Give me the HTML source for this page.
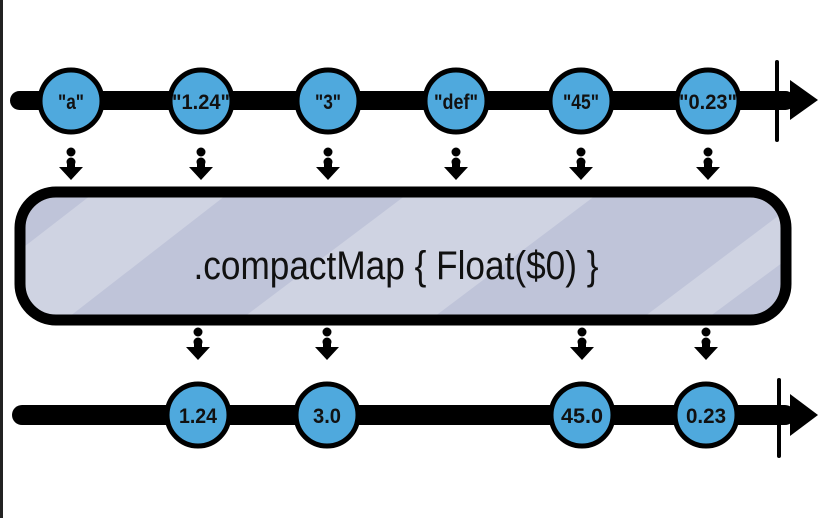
<!DOCTYPE html>
<html><head><meta charset="utf-8"><style>
html,body{margin:0;padding:0;background:#fff;width:818px;height:518px;overflow:hidden}
</style></head><body>
<svg width="818" height="518" viewBox="0 0 818 518" xmlns="http://www.w3.org/2000/svg">
<defs>
<clipPath id="bc"><rect x="20" y="192" width="766" height="128" rx="36"/></clipPath>
<g id="dn"><circle cx="0" cy="0" r="4.5" fill="#000"/><circle cx="0" cy="10" r="4.5" fill="#000"/><path d="M-12 15 L12 15 L0 28 Z" fill="#000"/><rect x="-4" y="10" width="8" height="8" fill="#000"/></g>
</defs>
<rect x="0" y="0" width="3" height="518" fill="#222"/>
<rect x="10" y="91" width="785" height="19" rx="9.5" fill="#000"/>
<path d="M790 80 L818 100 L790 120 Z" fill="#000"/>
<rect x="775" y="60" width="4" height="82" rx="2" fill="#000"/>
<rect x="12" y="405" width="783" height="20" rx="10" fill="#000"/>
<path d="M790 394 L818 415 L790 436 Z" fill="#000"/>
<rect x="777" y="378" width="4" height="80" rx="2" fill="#000"/>
<g font-family="Liberation Sans, sans-serif" font-size="21" font-weight="bold" text-anchor="middle" fill="#111" lengthAdjust="spacingAndGlyphs">
<g stroke="#000" stroke-width="5" fill="#4fa9dd">
<circle cx="71" cy="101" r="31"/><circle cx="201" cy="101" r="31"/><circle cx="328" cy="101" r="31"/>
<circle cx="456" cy="101" r="31"/><circle cx="581" cy="101" r="31"/><circle cx="708" cy="101" r="31"/>
<circle cx="198" cy="415" r="31"/><circle cx="327" cy="415" r="31"/><circle cx="582" cy="415" r="31"/><circle cx="706" cy="415" r="31"/>
</g>
<text x="71" y="109" textLength="26" lengthAdjust="spacingAndGlyphs">"a"</text>
<text x="201" y="109" textLength="58" lengthAdjust="spacingAndGlyphs">"1.24"</text>
<text x="328" y="109" textLength="26" lengthAdjust="spacingAndGlyphs">"3"</text>
<text x="456" y="109" textLength="44" lengthAdjust="spacingAndGlyphs">"def"</text>
<text x="581" y="109" textLength="36" lengthAdjust="spacingAndGlyphs">"45"</text>
<text x="708" y="109" textLength="58" lengthAdjust="spacingAndGlyphs">"0.23"</text>
<text x="198" y="423" textLength="38" lengthAdjust="spacingAndGlyphs">1.24</text>
<text x="327" y="423" textLength="28" lengthAdjust="spacingAndGlyphs">3.0</text>
<text x="582" y="423" textLength="42" lengthAdjust="spacingAndGlyphs">45.0</text>
<text x="706" y="423" textLength="40" lengthAdjust="spacingAndGlyphs">0.23</text>
</g>
<use href="#dn" x="71" y="152"/><use href="#dn" x="201" y="152"/><use href="#dn" x="328" y="152"/>
<use href="#dn" x="456" y="152"/><use href="#dn" x="581" y="152"/><use href="#dn" x="708" y="152"/>
<use href="#dn" x="198" y="332"/><use href="#dn" x="327" y="332"/><use href="#dn" x="582" y="332"/><use href="#dn" x="706" y="332"/>
<rect x="20" y="192" width="766" height="128" rx="36" fill="#bfc4d9"/>
<g clip-path="url(#bc)" fill="#cfd3e2">
<path d="M20 250 L95 192 L230 192 L20 355 Z"/>
<path d="M240 320 L410 192 L600 192 L430 320 Z"/>
<path d="M640 320 L786 210 L786 260 L705 320 Z"/>
</g>
<rect x="20" y="192" width="766" height="128" rx="36" fill="none" stroke="#000" stroke-width="11"/>
<text x="396" y="279" font-family="Liberation Sans, sans-serif" font-size="40" text-anchor="middle" textLength="405" lengthAdjust="spacingAndGlyphs" fill="#111">.compactMap { Float($0) }</text>
</svg>
</body></html>
